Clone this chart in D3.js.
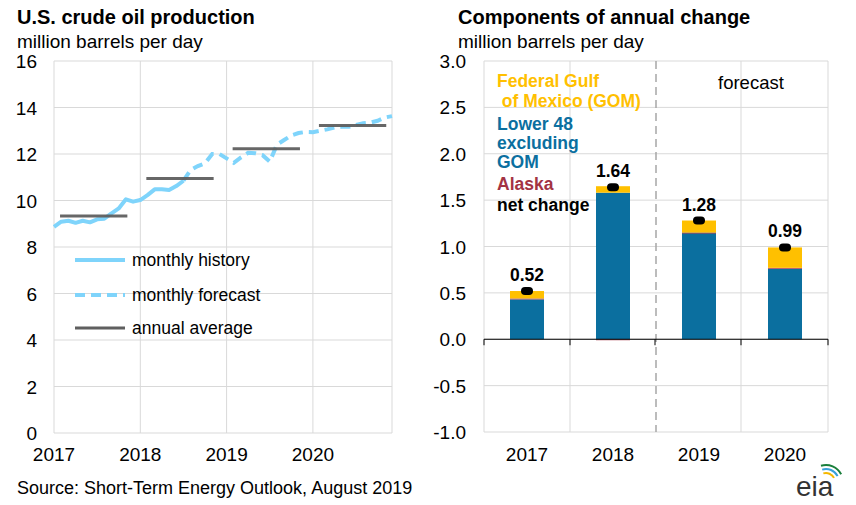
<!DOCTYPE html>
<html><head><meta charset="utf-8">
<script src="https://cdn.jsdelivr.net/npm/d3@7"></script>
<style>body{margin:0;background:#fff}text{font-family:Arial,"Liberation Sans",sans-serif}</style>
</head><body><div id="wrapper"></div>
<script>
// monthly production, million b/d
const months2017 = [8.87, 9.09, 9.13, 9.04, 9.13, 9.06, 9.19, 9.22, 9.45, 9.66, 10.05, 9.95];
const months2018 = [10.02, 10.23, 10.48, 10.48, 10.45, 10.62, 10.85, 11.31, 11.48, 11.6, 12.0, 12.0];
const months2019 = [11.81, 11.62, 11.85, 12.05, 12.03, 11.95, 11.67, 12.4, 12.6, 12.8, 12.9, 12.95];
const months2020 = [12.94, 13.0, 13.06, 13.14, 13.17, 13.17, 13.25, 13.32, 13.35, 13.43, 13.57, 13.63];
const historyCount = 19; // Jan 2017 .. Jul 2019
const annualAvg = [9.33, 10.95, 12.23, 13.23];
const years = [2017, 2018, 2019, 2020];

// components of annual change
const gom = [0.08, 0.07, 0.13, 0.22];
const lower48 = [0.43, 1.58, 1.15, 0.76];
const alaska = [0.01, -0.01, 0.0, 0.01];
const netChange = [0.52, 1.64, 1.28, 0.99];

const monthly = [...months2017, ...months2018, ...months2019, ...months2020]
  .map((v, i) => ({ t: 2017 + i / 12, v }));

const svg = d3.select("#wrapper").append("svg").attr("width", 856).attr("height", 505);
const grid = "#d9d9d9";

// titles
svg.append("text").attr("x", 17).attr("y", 24).attr("font-size", 20).attr("font-weight", "bold").text("U.S. crude oil production");
svg.append("text").attr("x", 17).attr("y", 48).attr("font-size", 19).text("million barrels per day");
svg.append("text").attr("x", 458).attr("y", 24).attr("font-size", 20).attr("font-weight", "bold").text("Components of annual change");
svg.append("text").attr("x", 458).attr("y", 48).attr("font-size", 19).text("million barrels per day");
svg.append("text").attr("x", 17).attr("y", 494).attr("font-size", 18).text("Source: Short-Term Energy Outlook, August 2019");

// ---- left chart
const xL = d3.scaleLinear().domain([2017, 2017 + 47 / 12]).range([54, 392]);
const yL = d3.scaleLinear().domain([0, 16]).range([433, 61]);
const left = svg.append("g");
left.selectAll(".hg").data(d3.range(2, 17, 2)).join("line")
  .attr("x1", 54).attr("x2", 392).attr("y1", yL).attr("y2", yL).attr("stroke", grid);
left.selectAll(".vg").data([2018, 2019, 2020, 2017 + 47 / 12]).join("line")
  .attr("x1", xL).attr("x2", xL).attr("y1", 61).attr("y2", 433).attr("stroke", grid);
left.append("line").attr("x1", 54).attr("x2", 54).attr("y1", 61).attr("y2", 433).attr("stroke", grid);
left.append("line").attr("x1", 54).attr("x2", 392).attr("y1", 433).attr("y2", 433).attr("stroke", grid);
left.selectAll(".yl").data(d3.range(0, 17, 2)).join("text")
  .attr("x", 37).attr("y", d => yL(d) + 7).attr("text-anchor", "end").attr("font-size", 19).text(d => d);
left.selectAll(".xl").data(years).join("text")
  .attr("x", xL).attr("y", 461).attr("text-anchor", "middle").attr("font-size", 19).text(d => d);

const line = d3.line().x(d => xL(d.t)).y(d => yL(d.v));
left.append("path").attr("d", line(monthly.slice(0, historyCount)))
  .attr("fill", "none").attr("stroke", "#7fd4fb").attr("stroke-width", 4).attr("stroke-linejoin", "round");
left.append("path").attr("d", line(monthly.slice(historyCount - 1)))
  .attr("fill", "none").attr("stroke", "#7fd4fb").attr("stroke-width", 4).attr("stroke-dasharray", "10,6");
left.selectAll(".avg").data(annualAvg).join("line")
  .attr("x1", (d, i) => xL(years[i] + 0.07)).attr("x2", (d, i) => xL(years[i] + 0.85))
  .attr("y1", yL).attr("y2", yL).attr("stroke", "#5f5f5f").attr("stroke-width", 3).attr("opacity", 0.95);

const legL = [["monthly history", null], ["monthly forecast", "10,6"], ["annual average", null]];
legL.forEach(([label, dash], i) => {
  const y = [260, 295, 328][i];
  left.append("line").attr("x1", 75).attr("x2", 125).attr("y1", y).attr("y2", y)
    .attr("stroke", i === 2 ? "#5f5f5f" : "#7fd4fb").attr("stroke-width", i === 2 ? 3 : 4)
    .attr("stroke-dasharray", dash);
  left.append("text").attr("x", 132).attr("y", y + 6).attr("font-size", 17.5).text(label);
});

// ---- right chart
const xR = d3.scaleBand().domain(years).range([484, 828]);
const yR = d3.scaleLinear().domain([-1, 3]).range([432, 61]);
const right = svg.append("g");
right.selectAll(".hg").data(d3.range(-1, 3.01, 0.5)).join("line")
  .attr("x1", 484).attr("x2", 828).attr("y1", yR).attr("y2", yR).attr("stroke", grid);
right.selectAll(".vg").data([484, 570, 741, 828]).join("line")
  .attr("x1", d => d).attr("x2", d => d).attr("y1", 61).attr("y2", 432).attr("stroke", grid);
right.append("line").attr("x1", xR(2019)).attr("x2", xR(2019)).attr("y1", 61).attr("y2", 432)
  .attr("stroke", "#a6a6a6").attr("stroke-width", 1.5).attr("stroke-dasharray", "8,5");
right.selectAll(".yl").data(d3.range(-1, 3.01, 0.5)).join("text")
  .attr("x", 466).attr("y", d => yR(d) + 7).attr("text-anchor", "end").attr("font-size", 19).text(d => d.toFixed(1));
right.selectAll(".xl").data(years).join("text")
  .attr("x", d => xR(d) + xR.bandwidth() / 2).attr("y", 461).attr("text-anchor", "middle").attr("font-size", 19).text(d => d);
right.append("text").attr("x", 718).attr("y", 89).attr("font-size", 18.5).text("forecast");

const bw = 34;
years.forEach((yr, i) => {
  const cx = xR(yr) + xR.bandwidth() / 2;
  const segs = [];
  let pos = 0, neg = 0;
  [[lower48[i], "#0b6f9f"], [alaska[i], "#b04a5a"], [gom[i], "#ffc000"]].forEach(([v, c]) => {
    if (v >= 0) { segs.push([pos, pos + v, c]); pos += v; }
    else { segs.push([neg + v, neg, c]); neg += v; }
  });
  segs.forEach(([a, b, c]) => {
    right.append("rect").attr("x", cx - bw / 2).attr("width", bw)
      .attr("y", yR(b)).attr("height", Math.max(yR(a) - yR(b), 1)).attr("fill", c);
  });
  right.append("rect").attr("x", cx - 6).attr("y", yR(netChange[i]) - 4).attr("width", 12).attr("height", 8)
    .attr("rx", 4).attr("fill", "#000");
  right.append("text").attr("x", cx).attr("y", yR(netChange[i]) - 10).attr("text-anchor", "middle")
    .attr("font-size", 17.5).attr("font-weight", "bold").text(netChange[i].toFixed(2));
});
right.append("line").attr("x1", 484).attr("x2", 828).attr("y1", yR(0)).attr("y2", yR(0)).attr("stroke", "#000");
right.selectAll(".tk").data([484, 570, 655, 741, 828]).join("line")
  .attr("x1", d => d).attr("x2", d => d).attr("y1", yR(0)).attr("y2", yR(0) + 6).attr("stroke", "#000");

const legR = [["Federal Gulf", "#ffc000", 87], [" of Mexico (GOM)", "#ffc000", 107], ["Lower 48", "#0b6f9f", 130],
  ["excluding", "#0b6f9f", 149], ["GOM", "#0b6f9f", 168], ["Alaska", "#a33343", 190], ["net change", "#000", 211]];
legR.forEach(([t, c, y]) => {
  right.append("text").attr("x", 497).attr("y", y).attr("font-size", 17.5).attr("font-weight", "bold")
    .attr("fill", c).attr("xml:space", "preserve").text(t);
});

// eia mark
svg.append("text").attr("x", 796).attr("y", 496).attr("font-size", 28).attr("fill", "#333").text("eia");
[["#f5b800", 10], ["#3aa0d8", 14], ["#1a7f3c", 18]].forEach(([c, r]) => {
  svg.append("path").attr("d", d3.arc()({ innerRadius: r - 2, outerRadius: r, startAngle: -0.3, endAngle: 1.1 }))
    .attr("transform", `translate(826,482)`).attr("fill", c);
});
</script></body></html>
